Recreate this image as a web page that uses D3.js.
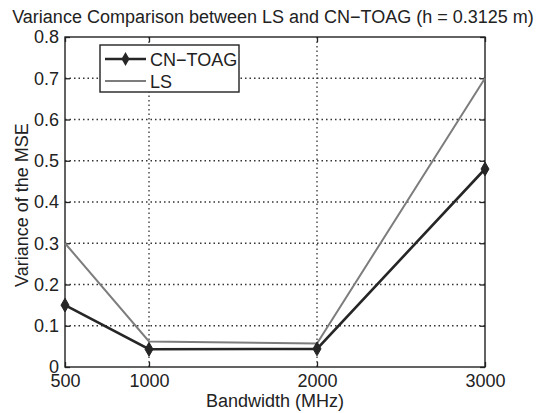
<!DOCTYPE html>
<html>
<head>
<meta charset="utf-8">
<script src="https://cdn.jsdelivr.net/npm/d3@7"></script>
<style>
  body { margin: 0; background: #fff; }
  svg { font-family: "Liberation Sans", Arial, sans-serif; }
</style>
</head>
<body>
<svg id="chart"></svg>
<script>
// Chart data
const bandwidths = [500, 1000, 2000, 3000];
const cnToag = [0.15, 0.043, 0.044, 0.48];
const ls = [0.30, 0.062, 0.057, 0.70];
const yTicks = [0, 0.1, 0.2, 0.3, 0.4, 0.5, 0.6, 0.7, 0.8];
const xTicks = [500, 1000, 2000, 3000];

const W = 542, H = 413;
const fs = 18;
let margin = {top: 37, right: 57, bottom: 46, left: 65},
    width = W - margin.left - margin.right,
    height = H - margin.top - margin.bottom;

let svg = d3.select("#chart").attr("width", W).attr("height", H);
let g = svg.append("g").attr("transform", "translate(" + margin.left + "," + margin.top + ")");

let x = d3.scaleLinear().domain([500, 3000]).range([0, width]);
let y = d3.scaleLinear().domain([0, 0.8]).range([height, 0]);

// Dotted grid
g.selectAll(".hgrid").data(yTicks.slice(1, -1)).enter().append("line")
    .attr("x1", 0).attr("x2", width)
    .attr("y1", d => y(d)).attr("y2", d => y(d))
    .attr("stroke", "#333").attr("stroke-width", 1.3).attr("stroke-dasharray", "1.5,3");
g.selectAll(".vgrid").data(xTicks.slice(1, -1)).enter().append("line")
    .attr("x1", d => x(d)).attr("x2", d => x(d))
    .attr("y1", 0).attr("y2", height)
    .attr("stroke", "#333").attr("stroke-width", 1.3).attr("stroke-dasharray", "1.5,3");

// Axes (MATLAB box style, inward ticks)
function styleAxis(sel) {
    sel.select(".domain").remove();
    sel.selectAll("line").attr("stroke", "#222").attr("stroke-width", 1.3);
    sel.selectAll("text").attr("font-size", fs).attr("fill", "#222");
}
g.append("g").attr("transform", "translate(0," + height + ")")
    .call(d3.axisBottom(x).tickValues(xTicks).tickSize(-5).tickPadding(7).tickFormat(d3.format("d")))
    .call(styleAxis);
g.append("g")
    .call(d3.axisTop(x).tickValues(xTicks).tickSize(-5).tickFormat(""))
    .call(styleAxis);
g.append("g")
    .call(d3.axisLeft(y).tickValues(yTicks).tickSize(-5).tickPadding(6).tickFormat(d => d === 0 ? "0" : d3.format(".1f")(d)))
    .call(styleAxis);
g.append("g").attr("transform", "translate(" + width + ",0)")
    .call(d3.axisRight(y).tickValues(yTicks).tickSize(-5).tickFormat(""))
    .call(styleAxis);

g.append("rect").attr("width", width).attr("height", height)
    .attr("fill", "none").attr("stroke", "#222").attr("stroke-width", 1.4);

// Lines
let line = d3.line().x((d, i) => x(bandwidths[i])).y(d => y(d));
g.append("path").datum(ls).attr("d", line)
    .attr("fill", "none").attr("stroke", "#7d7d7d").attr("stroke-width", 2);
g.append("path").datum(cnToag).attr("d", line)
    .attr("fill", "none").attr("stroke", "#262626").attr("stroke-width", 2.6);
g.selectAll(".marker").data(cnToag).enter().append("path")
    .attr("transform", (d, i) => "translate(" + x(bandwidths[i]) + "," + y(d) + ")")
    .attr("d", d3.symbol(d3.symbolDiamond, 55))
    .attr("fill", "#262626").attr("stroke", "#262626").attr("stroke-width", 1);

// Legend
let lg = svg.append("g").attr("transform", "translate(100,45)");
lg.append("rect").attr("width", 139).attr("height", 47)
    .attr("fill", "#fff").attr("stroke", "#222").attr("stroke-width", 1.4);
lg.append("line").attr("x1", 5).attr("x2", 46).attr("y1", 14).attr("y2", 14)
    .attr("stroke", "#262626").attr("stroke-width", 2.6);
lg.append("path").attr("transform", "translate(25.5,14)")
    .attr("d", d3.symbol(d3.symbolDiamond, 55)).attr("fill", "#262626");
lg.append("text").attr("x", 50).attr("y", 21).attr("font-size", fs).attr("fill", "#222").text("CN\u2212TOAG");
lg.append("line").attr("x1", 5).attr("x2", 46).attr("y1", 36).attr("y2", 36)
    .attr("stroke", "#7d7d7d").attr("stroke-width", 2);
lg.append("text").attr("x", 50).attr("y", 43).attr("font-size", fs).attr("fill", "#222").text("LS");

// Title and axis labels
svg.append("text").attr("x", 273).attr("y", 23).attr("text-anchor", "middle")
    .attr("font-size", fs).attr("fill", "#222")
    .text("Variance Comparison between LS and CN\u2212TOAG (h = 0.3125 m)");
svg.append("text").attr("x", 275).attr("y", 407).attr("text-anchor", "middle")
    .attr("font-size", fs).attr("fill", "#222").text("Bandwidth (MHz)");
svg.append("text").attr("transform", "translate(28,205) rotate(-90)")
    .attr("text-anchor", "middle").attr("font-size", fs).attr("fill", "#222").text("Variance of the MSE");
</script>
</body>
</html>
